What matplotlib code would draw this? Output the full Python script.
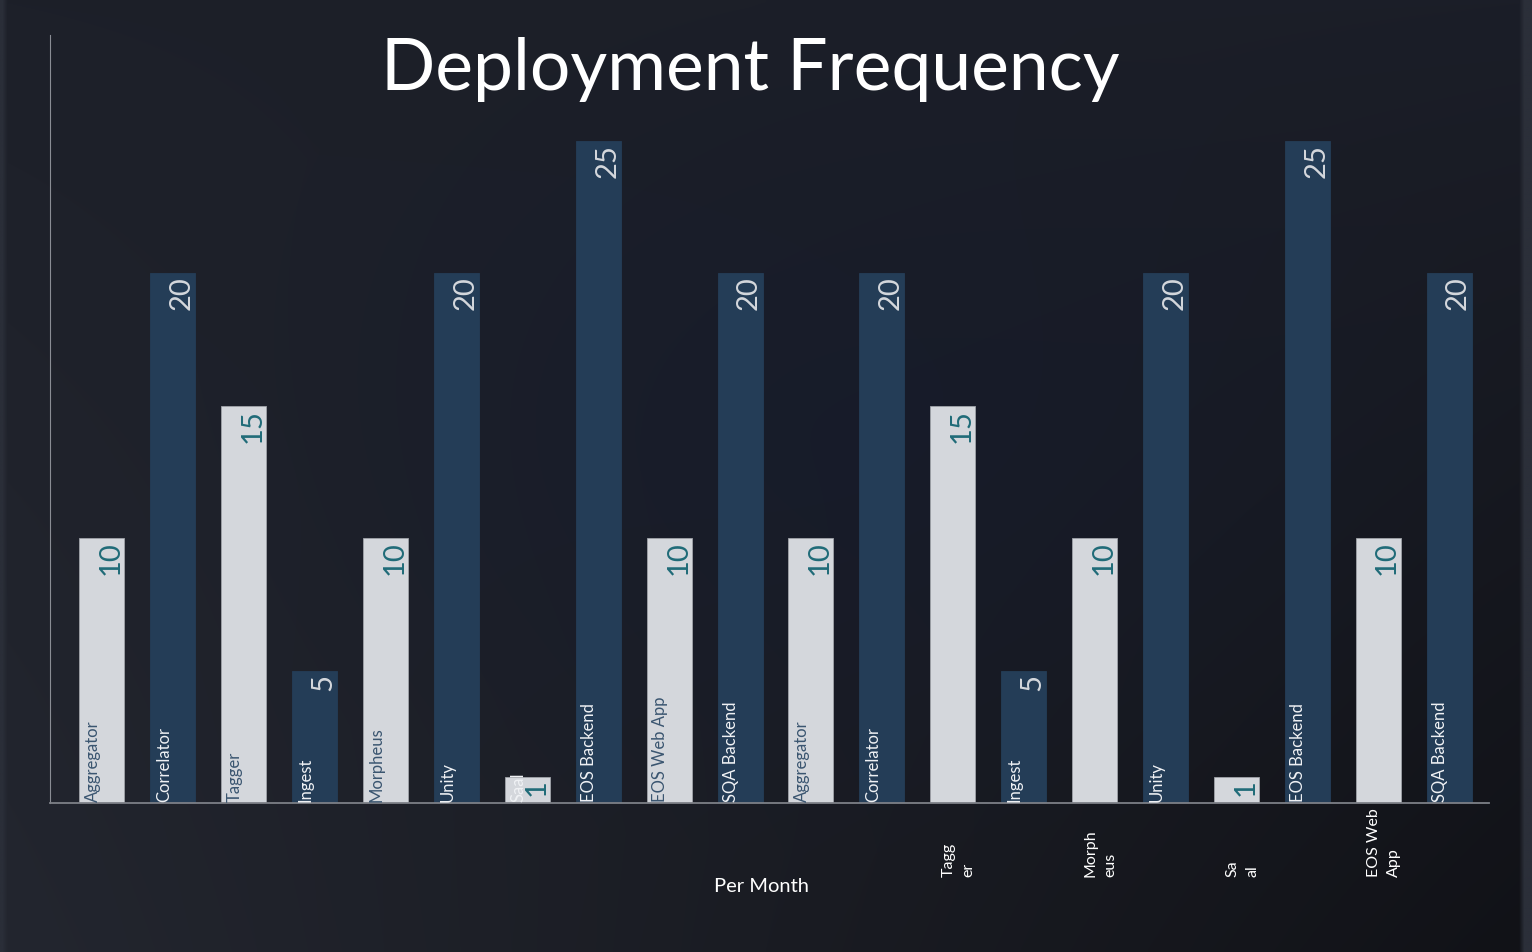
import numpy as np
import matplotlib
matplotlib.use("Agg")
import matplotlib.pyplot as plt

# ---- data ----
categories = ["Aggregator", "Correlator", "Tagger", "Ingest", "Morpheus", "Unity",
              "Saal", "EOS Backend", "EOS Web App", "SQA Backend",
              "Aggregator", "Correlator", "Tagger", "Ingest", "Morpheus", "Unity",
              "Saal", "EOS Backend", "EOS Web App", "SQA Backend"]
values = [10, 20, 15, 5, 10, 20, 1, 25, 10, 20,
          10, 20, 15, 5, 10, 20, 1, 25, 10, 20]
# labels drawn under the axis (wrapped) instead of inside the bar
below_labels = {12: "Tagg\ner", 14: "Morph\neus", 16: "Sa\nal", 18: "EOS Web\nApp"}
white_inside = {6}
title = "Deployment Frequency"
xlabel = "Per Month"

FONT = "Lato"
LIGHT = "#d4d7dc"
DARK = "#243d57"

W, H = 1532, 952
fig = plt.figure(figsize=(W / 100, H / 100), dpi=100)

# ---- background gradient ----
bg = fig.add_axes([0, 0, 1, 1], zorder=-10)
bg.set_axis_off()
yy, xx = np.mgrid[0:1:200j, 0:1:300j]
tl = np.array([29, 32, 41]); tr = np.array([27, 30, 40])
bl = np.array([35, 38, 47]); br = np.array([17, 18, 23])
img = ((1 - xx)[..., None] * (1 - yy)[..., None] * tl + xx[..., None] * (1 - yy)[..., None] * tr
       + (1 - xx)[..., None] * yy[..., None] * bl + xx[..., None] * yy[..., None] * br)
d = np.sqrt(((xx - 0.55) / 0.45) ** 2 + ((yy - 0.45) / 0.45) ** 2)
glow = np.clip(1 - d, 0, 1)[..., None]
img = img * (1 - 0.6 * glow) + np.array([21, 27, 45]) * 0.6 * glow
img = img / 255.0
img[:, :1] = np.array([42, 46, 56]) / 255
img[:, int(300 * 1522 / W):] = np.array([43, 47, 57]) / 255
bg.imshow(img, aspect="auto", extent=[0, 1, 0, 1], origin="upper", interpolation="bilinear")
bg.set_xlim(0, 1); bg.set_ylim(0, 1)

# ---- main axes ----
ax = fig.add_axes([50 / W, 149 / H, (1489 - 50) / W, (803 - 35) / H])
ax.set_facecolor("none")
x = np.arange(len(values))
colors = [LIGHT if i % 2 == 0 else DARK for i in x]
edges = ["#a0a3a9" if i % 2 == 0 else DARK for i in x]
ax.bar(x, values, width=0.635, color=colors, edgecolor=edges, linewidth=0.6, zorder=2)
ax.set_xlim(-0.733, 19.564)
ax.set_ylim(0, 29)
ax.set_xticks([]); ax.set_yticks([])
for s in ["top", "right"]:
    ax.spines[s].set_visible(False)
ax.spines["left"].set_color("#8a8d94"); ax.spines["left"].set_linewidth(0.8)
ax.spines["bottom"].set_color("#7d8087"); ax.spines["bottom"].set_linewidth(1.3)

ppu = (803 - 35) / 29.0  # pixels per y unit
off = 9 / 70.9
for i, (c, v) in enumerate(zip(categories, values)):
    light = i % 2 == 0
    if i in below_labels:
        ax.text(i + 6 / 70.9, -(877 - 803) / ppu, below_labels[i], rotation=90,
                ha="center", va="bottom", color="white", fontsize=11.5, family=FONT,
                multialignment="left", linespacing=1.5, clip_on=False)
    else:
        col = "#3a5570" if (light and i not in white_inside) else "#f0f2f5"
        ax.text(i - off, 0.05, c, rotation=90, ha="center", va="bottom",
                color=col, fontsize=12, family=FONT, zorder=3)
    ax.text(i + off, v - 3 / ppu, str(v), rotation=90, ha="center", va="top",
            color="#1f6b78" if light else "#d5d8dd", fontsize=21, family=FONT, zorder=3)

fig.text(750 / W, 1 - 70 / H, title, ha="center", va="center", color="white",
         fontsize=51.5, family=FONT)
fig.text(761 / W, 1 - 886 / H, xlabel, ha="center", va="center", color="white",
         fontsize=14.5, family=FONT)

fig.savefig("out.png", dpi=100)
